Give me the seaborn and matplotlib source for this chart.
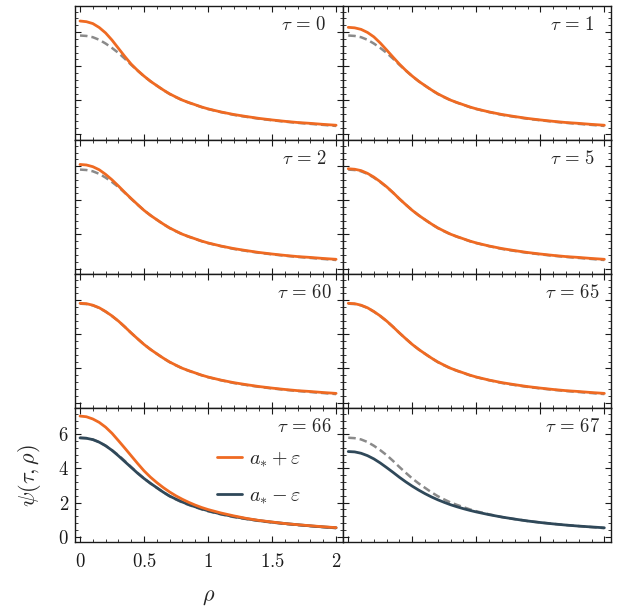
import numpy as np
import pandas as pd
import matplotlib
matplotlib.use("Agg")
import matplotlib.pyplot as plt
import matplotlib.ticker as mticker
import seaborn as sns

# ---------------- data ----------------
rho = [0.00, 0.05, 0.10, 0.15, 0.20, 0.25, 0.30, 0.35, 0.40, 0.45, 0.50,
       0.55, 0.60, 0.65, 0.70, 0.75, 0.80, 0.85, 0.90, 0.95, 1.00,
       1.1, 1.2, 1.3, 1.4, 1.5, 1.6, 1.7, 1.8, 1.9, 2.0]

# static (reference) profile, grey dashed
psi_static = [5.80, 5.775, 5.70, 5.55, 5.33, 5.07, 4.78, 4.44, 4.08, 3.74, 3.41,
              3.12, 2.86, 2.60, 2.37, 2.18, 2.00, 1.86, 1.73, 1.60, 1.49,
              1.31, 1.15, 1.03, 0.92, 0.83, 0.75, 0.68, 0.62, 0.56, 0.50]

# a_* + eps  (orange)
psi_plus_t0 = [6.65, 6.61, 6.50, 6.27, 5.95, 5.53, 5.05, 4.57, 4.12, 3.75, 3.42,
               3.12, 2.86, 2.61, 2.38, 2.19, 2.01, 1.87, 1.74, 1.61, 1.50,
               1.32, 1.17, 1.05, 0.94, 0.85, 0.77, 0.70, 0.65, 0.59, 0.54]
psi_plus_t1 = [6.28, 6.25, 6.16, 5.98, 5.72, 5.36, 4.95, 4.53, 4.12, 3.75, 3.42,
               3.12, 2.86, 2.61, 2.38, 2.19, 2.01, 1.87, 1.74, 1.61, 1.50,
               1.32, 1.17, 1.05, 0.94, 0.85, 0.77, 0.70, 0.65, 0.59, 0.54]
psi_plus_t2 = [6.10, 6.07, 5.97, 5.79, 5.52, 5.20, 4.84, 4.46, 4.10, 3.75, 3.41,
               3.12, 2.86, 2.61, 2.38, 2.19, 2.01, 1.87, 1.74, 1.61, 1.50,
               1.32, 1.17, 1.05, 0.94, 0.85, 0.77, 0.70, 0.65, 0.59, 0.54]
psi_plus_t5 = [5.85, 5.82, 5.74, 5.58, 5.36, 5.09, 4.79, 4.45, 4.08, 3.74, 3.41,
               3.12, 2.86, 2.61, 2.38, 2.19, 2.01, 1.87, 1.74, 1.61, 1.50,
               1.32, 1.17, 1.05, 0.94, 0.85, 0.77, 0.70, 0.65, 0.59, 0.54]
psi_plus_t60 = [5.82, 5.80, 5.71, 5.56, 5.34, 5.08, 4.78, 4.44, 4.08, 3.74, 3.41,
                3.12, 2.86, 2.61, 2.38, 2.19, 2.01, 1.87, 1.74, 1.61, 1.50,
                1.32, 1.17, 1.05, 0.94, 0.85, 0.77, 0.70, 0.65, 0.59, 0.54]
psi_plus_t65 = [5.82, 5.80, 5.71, 5.56, 5.34, 5.08, 4.78, 4.44, 4.08, 3.74, 3.41,
                3.12, 2.86, 2.61, 2.38, 2.19, 2.01, 1.87, 1.74, 1.61, 1.50,
                1.32, 1.17, 1.05, 0.94, 0.85, 0.77, 0.70, 0.65, 0.59, 0.54]
psi_plus_t66 = [7.07, 7.03, 6.90, 6.70, 6.42, 6.06, 5.63, 5.19, 4.74, 4.29, 3.86,
                3.49, 3.17, 2.88, 2.62, 2.39, 2.19, 2.01, 1.85, 1.71, 1.59,
                1.39, 1.22, 1.07, 0.95, 0.86, 0.77, 0.70, 0.64, 0.58, 0.53]

# a_* - eps  (dark slate)
psi_minus_t66 = [5.79, 5.77, 5.69, 5.54, 5.33, 5.06, 4.74, 4.40, 4.06, 3.72, 3.41,
                 3.13, 2.87, 2.61, 2.38, 2.20, 2.03, 1.88, 1.75, 1.63, 1.52,
                 1.33, 1.18, 1.05, 0.94, 0.85, 0.77, 0.70, 0.63, 0.57, 0.52]
psi_minus_t67 = [4.99, 4.97, 4.89, 4.75, 4.56, 4.32, 4.05, 3.77, 3.48, 3.21, 2.96,
                 2.73, 2.52, 2.33, 2.16, 2.01, 1.87, 1.75, 1.64, 1.54, 1.45,
                 1.29, 1.15, 1.03, 0.92, 0.83, 0.75, 0.68, 0.62, 0.57, 0.52]

taus = [0, 1, 2, 5, 60, 65, 66, 67]
panel_plus = {0: psi_plus_t0, 1: psi_plus_t1, 2: psi_plus_t2, 5: psi_plus_t5,
              60: psi_plus_t60, 65: psi_plus_t65, 66: psi_plus_t66}
panel_minus = {66: psi_minus_t66, 67: psi_minus_t67}

x_ticks = [0, 0.5, 1, 1.5, 2]
y_ticks = [0, 2, 4, 6]

ORANGE = "#EF6A22"
DARK = "#2F4859"
GREY = "#8A8A8A"

# ---------------- style ----------------
sns.set_theme(style="ticks")
plt.rcParams.update({
    "font.family": ["DejaVu Serif", "DejaVu Sans"],
    "mathtext.fontset": "cm",
    "axes.edgecolor": "#1a1a1a",
    "axes.linewidth": 1.0,
    "xtick.color": "#1a1a1a",
    "ytick.color": "#1a1a1a",
})

fig, axes = plt.subplots(4, 2, figsize=(6.23, 6.12), dpi=100, sharex=True, sharey=True)
fig.subplots_adjust(left=74.5 / 623, right=611 / 623, top=1 - 6 / 612,
                    bottom=1 - 542.3 / 612, hspace=0, wspace=0)

for i, tau in enumerate(taus):
    ax = axes[i // 2, i % 2]
    sdf = pd.DataFrame({"rho": rho, "psi": psi_static})
    sns.lineplot(data=sdf, x="rho", y="psi", ax=ax, color=GREY, lw=1.8,
                 linestyle=(0, (3.0, 1.6)), zorder=1)
    if tau in panel_plus:
        pdf = pd.DataFrame({"rho": rho, "psi": panel_plus[tau]})
        sns.lineplot(data=pdf, x="rho", y="psi", ax=ax, color=ORANGE, lw=2.0,
                     zorder=3, label=r"$a_{*}+\varepsilon$" if tau == 66 else None)
    if tau in panel_minus:
        mdf = pd.DataFrame({"rho": rho, "psi": panel_minus[tau]})
        sns.lineplot(data=mdf, x="rho", y="psi", ax=ax, color=DARK, lw=2.0,
                     zorder=2, label=r"$a_{*}-\varepsilon$" if tau == 66 else None)

    ax.text(0.856, 0.86, r"$\tau\, =\, %d$" % tau, transform=ax.transAxes,
            ha="center", va="center", fontsize=13.5)

    ax.set_xlim(-0.043, 2.052)
    ax.set_ylim(-0.33, 7.53)
    ax.set_xticks(x_ticks)
    ax.set_yticks(y_ticks)
    ax.xaxis.set_minor_locator(mticker.MultipleLocator(0.1))
    ax.yaxis.set_minor_locator(mticker.MultipleLocator(0.4))
    ax.tick_params(which="both", direction="in", top=True, right=True,
                   bottom=True, left=True)
    ax.tick_params(which="major", length=4, width=0.8)
    ax.tick_params(which="minor", length=2.2, width=0.6)
    ax.tick_params(axis="x", which="major", pad=7.5)
    ax.tick_params(axis="y", which="major", pad=4)
    ax.set_xlabel("")
    ax.set_ylabel("")
    if not (i // 2 == 3 and i % 2 == 0):
        ax.tick_params(labelbottom=False, labelleft=False)
    if ax.get_legend() is not None:
        ax.get_legend().remove()

axb = axes[3, 0]
fmt = mticker.FuncFormatter(lambda v, p: r"$%g$" % v)
axb.xaxis.set_major_formatter(fmt)
axb.yaxis.set_major_formatter(fmt)
axb.tick_params(labelsize=13.5)
axb.tick_params(labelbottom=True, labelleft=True)
axes[3, 1].tick_params(labelbottom=False, labelleft=False)

axb.set_xlabel(r"$\rho$", fontsize=16, labelpad=10)
axb.set_ylabel(r"$\psi(\tau,\rho)$", fontsize=16)
axb.yaxis.set_label_coords(-0.118, 0.5)

axb.legend(loc="center left", bbox_to_anchor=(0.53, 0.482), frameon=False,
           fontsize=14.5, handlelength=1.25, handletextpad=0.35, labelspacing=0.85,
           borderpad=0, borderaxespad=0)

fig.savefig("out.png", dpi=100)
